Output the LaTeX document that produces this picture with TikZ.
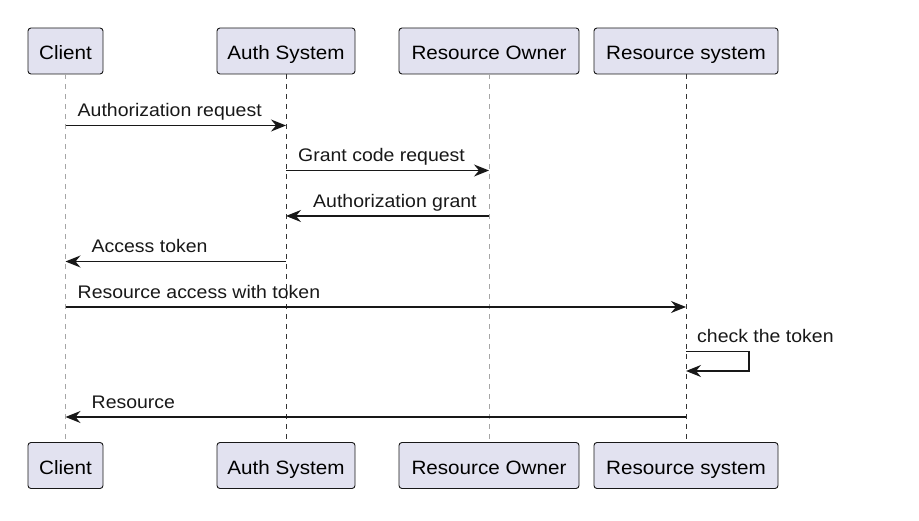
\documentclass[tikz,border=0pt]{standalone}
\usepackage{fontspec}
\setmainfont[FakeStretch=1.07]{Liberation Sans}
\usetikzlibrary{arrows.meta}
\definecolor{partfill}{HTML}{E2E2F0}
\definecolor{ink}{HTML}{181818}
\tikzset{
  part/.style={draw=ink, line width=0.9pt, fill=partfill, rounded corners=3pt,
    minimum height=46pt, inner sep=0pt, text height=20pt, text depth=2pt,
    font=\fontsize{19.3}{22}\selectfont},
  lifelight/.style={draw=black!35, line width=1pt, dash pattern=on 5pt off 5pt},
  lifedark/.style={draw=black!80, line width=1pt, dash pattern=on 5pt off 5pt},
  msg/.style={draw=ink, line width=1.3pt, -{Stealth[length=15pt,width=12pt,inset=5pt]}},
  lbl/.style={inner sep=0pt, font=\fontsize{18.2}{21}\selectfont, text=ink}
}
\begin{document}
\begin{tikzpicture}[x=1pt,y=-1pt]
\useasboundingbox (0,0) rectangle (919,521);
% participants top
\node[part, minimum width=75pt]  (c) at (65.5,51) {Client};
\node[part, minimum width=138pt] (a) at (286,51) {Auth System};
\node[part, minimum width=180pt] (o) at (489,51) {Resource Owner};
\node[part, minimum width=184pt] (r) at (686,51) {Resource system};
% participants bottom
\node[part, minimum width=75pt]  (c2) at (65.5,465.5) {Client};
\node[part, minimum width=138pt] (a2) at (286,465.5) {Auth System};
\node[part, minimum width=180pt] (o2) at (489,465.5) {Resource Owner};
\node[part, minimum width=184pt] (r2) at (686,465.5) {Resource system};
% lifelines
\draw[lifelight] (c.south) -- (c2.north);
\draw[lifedark] (a.south) -- (a2.north);
\draw[lifelight] (o.south) -- (o2.north);
\draw[lifedark] (r.south) -- (r2.north);
% message levels
\coordinate (y1) at (0,125.5);
\coordinate (y2) at (0,170.5);
\coordinate (y3) at (0,216);
\coordinate (y4) at (0,261.5);
\coordinate (y5) at (0,307);
\coordinate (y6) at (0,351.5);
\coordinate (y6b) at (0,371);
\coordinate (y7) at (0,417);
\coordinate (selfx) at (749,0);
% messages
\draw[msg] (c |- y1) -- (a |- y1);
\node[lbl, anchor=base west] at ([xshift=12pt,yshift=8.5pt]c |- y1) {Authorization request};
\draw[msg] (a |- y2) -- (o |- y2);
\node[lbl, anchor=base west] at ([xshift=12pt,yshift=8.5pt]a |- y2) {Grant code request};
\draw[msg] (o |- y3) -- (a |- y3);
\node[lbl, anchor=base west] at ([xshift=27pt,yshift=8.5pt]a |- y3) {Authorization grant};
\draw[msg] (a |- y4) -- (c |- y4);
\node[lbl, anchor=base west] at ([xshift=26pt,yshift=8.5pt]c |- y4) {Access token};
\draw[msg] (c |- y5) -- (r |- y5);
\node[lbl, anchor=base west] at ([xshift=12pt,yshift=8.5pt]c |- y5) {Resource access with token};
\draw[msg] (r |- y6) -- (selfx |- y6) -- (selfx |- y6b) -- (r |- y6b);
\node[lbl, anchor=base west] at ([xshift=11pt,yshift=8.5pt]r |- y6) {check the token};
\draw[msg] (r |- y7) -- (c |- y7);
\node[lbl, anchor=base west] at ([xshift=26pt,yshift=8.5pt]c |- y7) {Resource};
\end{tikzpicture}
\end{document}
